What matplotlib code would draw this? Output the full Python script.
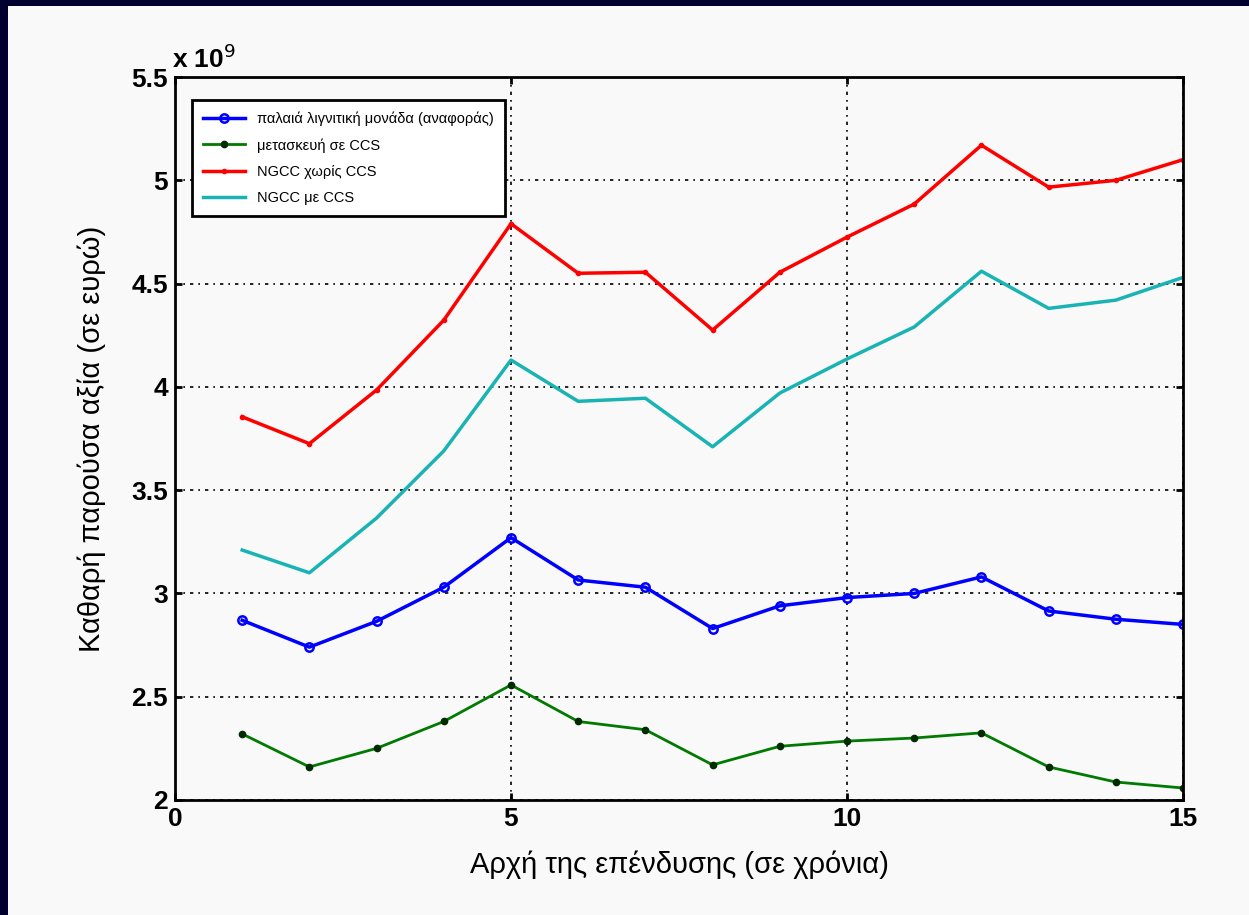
import matplotlib.pyplot as plt
from matplotlib.patches import Rectangle

# Data (values in units of 1e9 euro)
years = list(range(1, 16))
old_lignite = [2.87, 2.74, 2.865, 3.03, 3.27, 3.065, 3.03, 2.83, 2.94, 2.98, 3.0, 3.08, 2.915, 2.875, 2.85]
retrofit_ccs = [2.32, 2.16, 2.25, 2.38, 2.557, 2.38, 2.34, 2.17, 2.26, 2.285, 2.30, 2.325, 2.16, 2.087, 2.058]
ngcc_no_ccs = [3.855, 3.725, 3.985, 4.323, 4.79, 4.55, 4.555, 4.275, 4.555, 4.725, 4.885, 5.17, 4.967, 5.0, 5.10]
ngcc_ccs = [3.21, 3.10, 3.365, 3.69, 4.13, 3.93, 3.945, 3.71, 3.97, 4.135, 4.29, 4.56, 4.38, 4.42, 4.53]

labels = ["παλαιά λιγνιτική μονάδα (αναφοράς)", "μετασκευή σε CCS",
          "NGCC χωρίς CCS", "NGCC με CCS"]

plt.rcParams['font.family'] = ['Liberation Sans', 'DejaVu Sans']

fig = plt.figure(figsize=(12.49, 9.15), dpi=100)
fig.patch.set_facecolor('#f9f9f9')
# dark frame strips on top and left edges
fig.patches.append(Rectangle((0, 1 - 6 / 915), 1, 6 / 915, transform=fig.transFigure,
                             facecolor='#000030', edgecolor='none', zorder=0))
fig.patches.append(Rectangle((0, 0), 8 / 1249, 1, transform=fig.transFigure,
                             facecolor='#000030', edgecolor='none', zorder=0))

ax = fig.add_axes([0.1401, 0.1257, 0.8071, 0.7901])
ax.set_facecolor('#f9f9f9')

ax.plot(years, old_lignite, color='#0000ff', lw=2.5, marker='o', ms=6,
        mfc='none', mew=1.8, label=labels[0])
ax.plot(years, retrofit_ccs, color='#007a00', lw=2, marker='.', ms=9,
        mfc='#002a00', mec='#002a00', label=labels[1])
ax.plot(years, ngcc_no_ccs, color='#ff0000', lw=2.5, marker='.', ms=6,
        label=labels[2])
ax.plot(years, ngcc_ccs, color='#1ab3b3', lw=2.5, label=labels[3])

ax.set_xlim(0, 15)
ax.set_ylim(2, 5.5)
ax.set_xticks([0, 5, 10, 15])
ax.set_yticks([2, 2.5, 3, 3.5, 4, 4.5, 5, 5.5])
ax.set_yticklabels(['2', '2.5', '3', '3.5', '4', '4.5', '5', '5.5'])
ax.tick_params(labelsize=19, width=2, length=5, direction='in', top=True, right=True, pad=5)
for lbl in ax.get_xticklabels() + ax.get_yticklabels():
    lbl.set_fontweight('bold')
for s in ax.spines.values():
    s.set_linewidth(2)

ax.grid(True, color='black', linestyle=(0, (2, 3, 1, 3)), linewidth=1.2)

ax.text(-0.003, 1.005, r'x 10$^{9}$', transform=ax.transAxes, fontsize=19,
        fontweight='bold', ha='left', va='bottom')

ax.set_xlabel('Αρχή της επένδυσης (σε χρόνια)', fontsize=21, labelpad=14)
ax.set_ylabel('Καθαρή παρούσα αξία (σε ευρώ)', fontsize=21, labelpad=18)

leg = ax.legend(loc='upper left', bbox_to_anchor=(0.017, 0.968), borderaxespad=0,
                fontsize=10.5, frameon=True, fancybox=False, edgecolor='black',
                facecolor='white', framealpha=1, handlelength=2.9,
                handletextpad=0.8, labelspacing=0.85, borderpad=0.75)
leg.get_frame().set_linewidth(2)

fig.savefig('out.png', dpi=100, facecolor=fig.get_facecolor())
